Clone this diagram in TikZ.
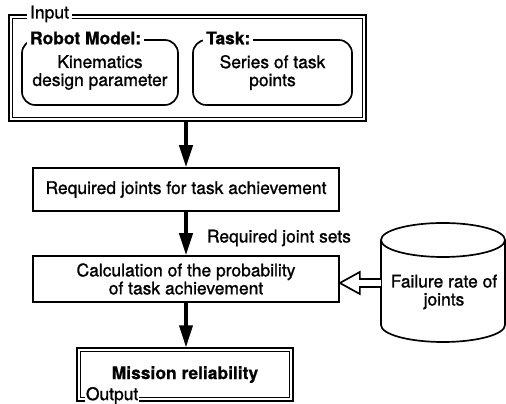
\documentclass[tikz,border=0pt]{standalone}
\usepackage{fontspec}
\setmainfont{TeX Gyre Heros}[UprightFeatures={FakeBold=1.2},BoldFeatures={FakeBold=0.6}]
\usetikzlibrary{arrows.meta,calc}

\begin{document}
\begin{tikzpicture}[x=0.25mm,y=-0.25mm, % one unit = one pixel, y runs downwards
  font=\fontsize{12.4}{12.8}\selectfont,
  box/.style={draw, line width=1.2pt, inner sep=0pt, align=center},
  frame/.style={draw, line width=1pt, inner sep=0pt},
  roundbox/.style={draw, line width=1.2pt, rounded corners=3.3mm, inner sep=0pt, align=center},
  tag/.style={fill=white, inner sep=2pt, anchor=west},
  flow/.style={line width=2.4pt, -{Triangle[length=5.5mm,width=3.3mm]}}]
\useasboundingbox (0,0) rectangle (506,404);

% input
\node (input) [frame, minimum width=89.25mm, minimum height=26.5mm] at (187.5,68) {};
\draw[line width=0.8pt] ([shift={(4,4)}]input.north west) rectangle ([shift={(-4,-4)}]input.south east); % double border
\node (intag) [tag] at (27,14) {Input};
\node (robot) [roundbox, minimum width=39mm, minimum height=16.25mm] at (100,72.5) {Kinematics\\design parameter};
\node (robottag) [tag, font=\fontsize{12.4}{12.8}\selectfont\bfseries] at (27,38) {Robot Model:};
\node (task) [roundbox, minimum width=39.75mm, minimum height=16.25mm] at (272.5,72.5) {Series of task\\points};
\node (tasktag) [tag, font=\fontsize{12.4}{12.8}\selectfont\bfseries] at (203,38) {Task:};

% processing
\node (box1) [box, minimum width=76.5mm, minimum height=10.75mm] at (186,189.5) {Required joints for task achievement};
\node (box2) [box, minimum width=76.5mm, minimum height=11.5mm] at (186,279) {Calculation of the probability\\of task achievement};
\node (sets) [anchor=west] at (202,238) {Required joint sets};

% failure data
\draw[line width=1.2pt] (443,240) ellipse [x radius=62, y radius=17];
\draw[line width=1.2pt] (381,240) -- (381,325) arc[start angle=180, end angle=0, x radius=62, y radius=17] -- (505,240);
\node (fail) [align=center] at (444,292) {Failure rate of\\joints};
\coordinate (failside) at (381,283);

% output
\node (output) [frame, minimum width=54mm, minimum height=13.25mm, font=\fontsize{12.4}{12.8}\selectfont\bfseries] at (185,374.5) {Mission reliability};
\draw[line width=0.8pt] ([shift={(4,4)}]output.north west) rectangle ([shift={(-4,-4)}]output.south east); % double border
\node (outtag) [tag, inner sep=0.5pt] at (85,395.5) {Output};

% connectors
\draw[flow] (input.south -| box1.north) -- (box1.north);
\draw[flow] (box1) -- (box2);
\draw[flow] (box2.south) -- (box2.south |- output.north);
\draw[line width=1.2pt, fill=white] ($(failside)+(0,-4)$) -- ($(box2.east |- failside)+(20,-4)$) -- ++(0,-7)
  -- (box2.east |- failside) -- ++(20,11) -- ++(0,-7) -- ($(failside)+(0,4)$); % hollow arrow
\end{tikzpicture}
\end{document}
